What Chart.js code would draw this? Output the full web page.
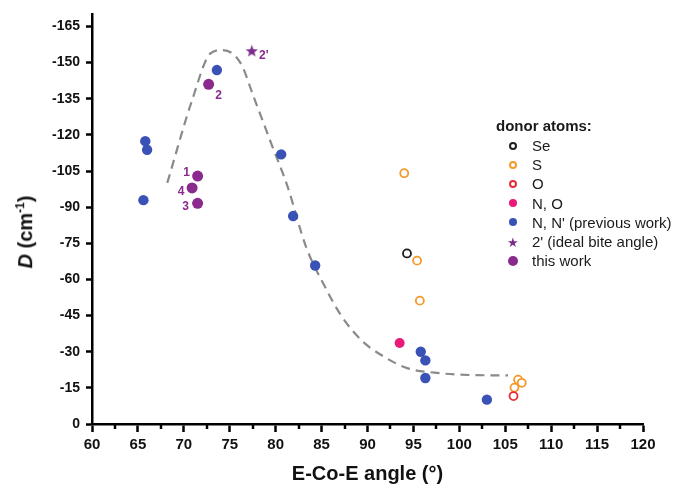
<!DOCTYPE html>
<html>
<head>
<meta charset="utf-8">
<script src="https://cdn.jsdelivr.net/npm/chart.js@4.4.1/dist/chart.umd.min.js"></script>
<style>
  body { margin: 0; background: #fff; }
  #wrap { position: relative; width: 680px; height: 488px; font-family: "Liberation Sans", Arial, sans-serif; }
  #ytitle { position: absolute; left: 25px; top: 232px; transform: translate(-50%, -50%) rotate(-90deg);
            font-weight: bold; font-size: 20px; white-space: nowrap; color: #111; }
  #ytitle sup { font-size: 12px; }
  #legend { position: absolute; left: 496px; top: 116px; color: #1a1a1a; }
  #legend .head { font-weight: bold; font-size: 15px; height: 20px; line-height: 20px; }
  #legend .item { position: relative; height: 19.2px; line-height: 19.2px; font-size: 15px; padding-left: 36px; white-space: nowrap; }
  #legend .mk { position: absolute; left: 17px; top: 50%; transform: translate(-50%, -50%); box-sizing: border-box; border-radius: 50%; }
  #legend .open { width: 8px; height: 8px; border: 2px solid; background: #fff; }
  #legend .fill { width: 8px; height: 8px; }
  #legend .big { width: 10px; height: 10px; }
  #legend .star { font-size: 13px; line-height: 13px; border-radius: 0; }
</style>
</head>
<body>
<div id="wrap">
  <canvas id="chart" width="680" height="488"></canvas>
  <div id="ytitle"><i>D</i> (cm<sup>-1</sup>)</div>
  <div id="legend"></div>
</div>
<script>
// x = E-Co-E angle (deg), y = D (cm-1)
const seX = [94.3];
const seY = [-70.8];
const sX = [94.0, 95.4, 95.7, 106.4, 106.8, 106.0];
const sY = [-104.1, -67.8, -51.2, -18.4, -17.1, -15.1];
const oX = [105.9];
const oY = [-11.6];
const noX = [93.5];
const noY = [-33.6];
const nnX = [65.8, 66.0, 65.6, 73.6, 80.6, 81.9, 84.3, 95.8, 96.3, 96.3, 103.0];
const nnY = [-117.4, -113.8, -92.9, -146.9, -111.9, -86.3, -65.8, -30.0, -26.4, -19.1, -10.1];
const idealX = [77.4];
const idealY = [-154.9];
const thisX = [72.7, 71.5, 70.9, 71.5];
const thisY = [-141.0, -102.9, -98.0, -91.6];
const thisLabels = ['2', '1', '4', '3'];
const idealLabels = ["2'"];

// dashed guide curve
const curveX = [68.2, 70.9, 72.9, 74.2, 76.2, 77.6, 79.5, 81.3, 83.3, 85.5, 87.1, 89.3, 91.8, 94.4, 97.3, 101.6, 105.3];
const curveY = [-100.1, -134.4, -153.8, -155.2, -149.7, -135.8, -116.6, -98.5, -73.6, -56.0, -45.2, -34.9, -27.9, -23.1, -21.3, -20.3, -20.2];

const xTicks = [60, 65, 70, 75, 80, 85, 90, 95, 100, 105, 110, 115, 120];
const yTicks = [0, -15, -30, -45, -60, -75, -90, -105, -120, -135, -150, -165];

const FONT = '"Liberation Sans", Arial, sans-serif';
const colors = {
    se: '#1e1e1e',
    s: '#f39a2c',
    o: '#e5303a',
    no: '#ea1a7b',
    nn: '#3a52b5',
    ideal: '#7c2b8c',
    thisWork: '#8a2a8e',
    curve: '#8a8a8a'
};

const pts = (xs, ys) => xs.map((x, i) => ({ x, y: ys[i] }));

// filled five-point star as point style
function makeStar(size, color) {
    const c = document.createElement('canvas');
    c.width = size; c.height = size;
    const g = c.getContext('2d');
    const cx = size / 2, cy = size / 2 + 0.6, R = size / 2, r = R * 0.42;
    g.beginPath();
    for (let i = 0; i < 10; i++) {
        const a = -Math.PI / 2 + i * Math.PI / 5;
        const rad = i % 2 === 0 ? R : r;
        g.lineTo(cx + rad * Math.cos(a), cy + rad * Math.sin(a));
    }
    g.closePath();
    g.fillStyle = color;
    g.fill();
    return c;
}
const starImg = makeStar(13, colors.ideal);

// labels next to the purple points
const labelOffsets = {
    thisWork: [[10, 11], [-11, -3], [-11, 4], [-12, 3]],
    ideal: [[12, 5]]
};
const pointLabels = {
    id: 'pointLabels',
    afterDatasetsDraw(chart) {
        const ctx = chart.ctx;
        const xs = chart.scales.x, ys = chart.scales.y;
        ctx.save();
        ctx.font = 'bold 12px ' + FONT;
        ctx.fillStyle = colors.thisWork;
        ctx.textAlign = 'center';
        ctx.textBaseline = 'middle';
        thisX.forEach((x, i) => {
            const [dx, dy] = labelOffsets.thisWork[i];
            ctx.fillText(thisLabels[i], xs.getPixelForValue(x) + dx, ys.getPixelForValue(thisY[i]) + dy);
        });
        idealX.forEach((x, i) => {
            const [dx, dy] = labelOffsets.ideal[i];
            ctx.fillText(idealLabels[i], xs.getPixelForValue(x) + dx, ys.getPixelForValue(idealY[i]) + dy);
        });
        ctx.restore();
    }
};

// short minor ticks on the x axis
const minorTicks = {
    id: 'minorTicks',
    afterDraw(chart) {
        const ctx = chart.ctx;
        const xs = chart.scales.x;
        const y0 = chart.chartArea.bottom;
        ctx.save();
        ctx.strokeStyle = '#000';
        ctx.lineWidth = 2.5;
        for (let v = xs.min + 2.5; v < xs.max; v += 5) {
            const px = Math.round(xs.getPixelForValue(v));
            ctx.beginPath();
            ctx.moveTo(px, y0);
            ctx.lineTo(px, y0 + 5);
            ctx.stroke();
        }
        ctx.restore();
    }
};

const scatterSet = (label, data, color, opts = {}) => Object.assign({
    label,
    data,
    pointStyle: 'circle',
    pointRadius: 5,
    backgroundColor: color,
    borderColor: color,
    borderWidth: 0,
    showLine: false
}, opts);

new Chart(document.getElementById('chart'), {
    type: 'scatter',
    data: {
        datasets: [
            scatterSet('this work', pts(thisX, thisY), colors.thisWork, { pointRadius: 5.5 }),
            scatterSet("2' (ideal bite angle)", pts(idealX, idealY), colors.ideal, { pointStyle: starImg }),
            scatterSet("N, N' (previous work)", pts(nnX, nnY), colors.nn, { pointRadius: 5.2 }),
            scatterSet('N, O', pts(noX, noY), colors.no, { pointRadius: 5 }),
            scatterSet('O', pts(oX, oY), colors.o, { pointRadius: 4, backgroundColor: '#fff', borderWidth: 1.8 }),
            scatterSet('S', pts(sX, sY), colors.s, { pointRadius: 4, backgroundColor: '#fff', borderWidth: 1.8 }),
            scatterSet('Se', pts(seX, seY), colors.se, { pointRadius: 4, backgroundColor: '#fff', borderWidth: 1.8 }),
            {
                label: 'guide',
                data: pts(curveX, curveY),
                showLine: true,
                pointRadius: 0,
                borderColor: colors.curve,
                borderWidth: 2.2,
                borderDash: [9, 6],
                cubicInterpolationMode: 'monotone',
                order: 10
            }
        ]
    },
    options: {
        responsive: false,
        devicePixelRatio: 1,
        animation: false,
        layout: { padding: { top: 14, right: 37, left: 0, bottom: 0 } },
        plugins: {
            legend: { display: false },
            tooltip: { enabled: false }
        },
        scales: {
            x: {
                type: 'linear',
                min: 60,
                max: 120,
                afterFit: s => { s.height = 64; },
                afterBuildTicks: s => { s.ticks = xTicks.map(v => ({ value: v })); },
                grid: { drawOnChartArea: false, drawTicks: true, tickLength: 8, tickWidth: 2.5, tickColor: '#000' },
                border: { display: true, color: '#000', width: 2.5 },
                ticks: { color: '#111', padding: 4, maxRotation: 0, font: { family: FONT, size: 15, weight: 'bold' } },
                title: {
                    display: true,
                    text: 'E-Co-E angle (°)',
                    color: '#111',
                    font: { family: FONT, size: 20, weight: 'bold' },
                    padding: { top: 0, bottom: 2 }
                }
            },
            y: {
                type: 'linear',
                min: -170,
                max: 0,
                reverse: true,
                afterFit: s => { s.width = 92; },
                afterBuildTicks: s => { s.ticks = yTicks.map(v => ({ value: v })); },
                grid: { drawOnChartArea: false, drawTicks: true, tickLength: 6, tickWidth: 2.5, tickColor: '#000' },
                border: { display: true, color: '#000', width: 2.5 },
                ticks: { color: '#111', padding: 6, font: { family: FONT, size: 14, weight: 'bold' } }
            }
        }
    },
    plugins: [pointLabels, minorTicks]
});

// legend box
const legendItems = [
    { text: 'Se', cls: 'open', color: colors.se },
    { text: 'S', cls: 'open', color: colors.s },
    { text: 'O', cls: 'open', color: colors.o },
    { text: 'N, O', cls: 'fill', color: colors.no },
    { text: "N, N' (previous work)", cls: 'fill', color: colors.nn },
    { text: "2' (ideal bite angle)", cls: 'star', color: colors.ideal },
    { text: 'this work', cls: 'fill big', color: colors.thisWork }
];
const legend = document.getElementById('legend');
legend.innerHTML = '<div class="head">donor atoms:</div>' + legendItems.map(it => {
    let mk;
    if (it.cls === 'open') mk = `<span class="mk open" style="border-color:${it.color}"></span>`;
    else if (it.cls === 'star') mk = `<span class="mk star" style="color:${it.color}">★</span>`;
    else mk = `<span class="mk ${it.cls}" style="background:${it.color}"></span>`;
    return `<div class="item">${mk}${it.text}</div>`;
}).join('');
</script>
</body>
</html>
